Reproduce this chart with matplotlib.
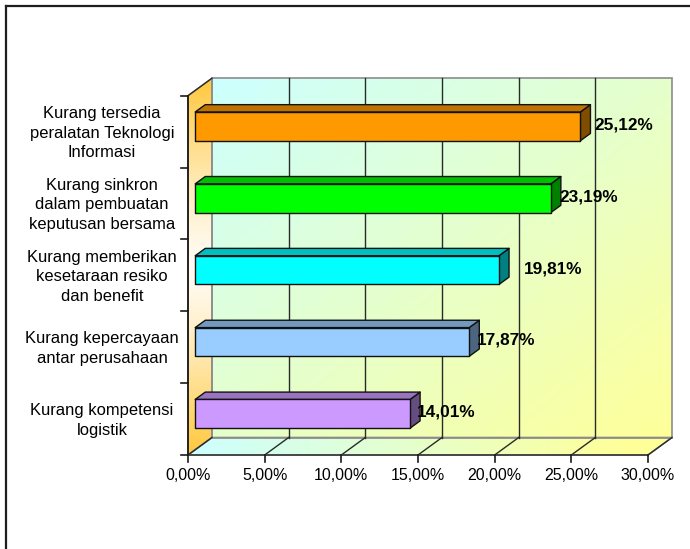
import numpy as np
import matplotlib
matplotlib.use("Agg")
import matplotlib.pyplot as plt
from matplotlib.patches import Polygon
from matplotlib.transforms import IdentityTransform
from matplotlib.lines import Line2D

plt.rcParams['font.family'] = ['Liberation Sans', 'DejaVu Sans']

# ---- data -------------------------------------------------------------
categories = [
    "Kurang tersedia\nperalatan Teknologi\nInformasi",
    "Kurang sinkron\ndalam pembuatan\nkeputusan bersama",
    "Kurang memberikan\nkesetaraan resiko\ndan benefit",
    "Kurang kepercayaan\nantar perusahaan",
    "Kurang kompetensi\nlogistik",
]
values = [25.12, 23.19, 19.81, 17.87, 14.01]
value_labels = ["25,12%", "23,19%", "19,81%", "17,87%", "14,01%"]
x_ticks = [0, 5, 10, 15, 20, 25, 30]
x_tick_labels = ["0,00%", "5,00%", "10,00%", "15,00%", "20,00%", "25,00%", "30,00%"]

# ---- styling ----------------------------------------------------------
front_colors = ["#FF9900", "#00FF00", "#00FFFF", "#99CCFF", "#CC99FF"]
label_pad_px = [4, -1, 15, -2, -3]

W, H = 690, 549
fig = plt.figure(figsize=(W / 100, H / 100), dpi=100)
fig.patch.set_facecolor("white")

# front plane of the 3-D box, in pixels
X0, X1 = 188, 648
YB, YT = H - 455, H - 95.7
ax = fig.add_axes([X0 / W, YB / H, (X1 - X0) / W, (YT - YB) / H])
ax.set_xlim(0, 30)
ax.set_ylim(0, len(categories))
ax.set_autoscale_on(False)
ax.set_axis_off()

DEPTH = np.array([24.0, 17.5])   # pixel offset from front plane to back wall
ID = IdentityTransform()


def P(x, y, d=0.0):
    """Data point (x, y) pushed back by depth fraction d, in display pixels."""
    return ax.transData.transform((x, y)) + d * DEPTH


def poly(points, **kw):
    p = Polygon(np.array(points), closed=True, transform=ID, clip_on=False, **kw)
    ax.add_artist(p)
    return p


def gradient(points, color_fn, zorder):
    pts = np.array(points)
    xmin, ymin = pts.min(axis=0)
    xmax, ymax = pts.max(axis=0)
    nx, ny = 200, 200
    u, v = np.meshgrid(np.linspace(0, 1, nx), np.linspace(0, 1, ny))
    img = color_fn(u, v)  # v = 0 at bottom
    clip = poly(points, facecolor="none", edgecolor="none", zorder=zorder)
    im = ax.imshow(img, extent=(xmin, xmax, ymin, ymax), transform=ID,
                   origin="lower", aspect="auto", interpolation="bilinear",
                   zorder=zorder)
    im.set_clip_box(fig.bbox)
    im.set_clip_path(clip)
    return im


def lerp(c1, c2, t):
    c1 = np.array(c1) / 255.0
    c2 = np.array(c2) / 255.0
    t = np.clip(t, 0, 1)[..., None]
    return c1 + (c2 - c1) * t


CYAN = (204, 255, 255)
YELLOW = (255, 255, 153)
GOLD = (255, 200, 60)
PALE = (255, 252, 245)

n = len(categories)

# back wall
back = [P(0, 0, 1), P(30, 0, 1), P(30, n, 1), P(0, n, 1)]
gradient(back, lambda u, v: lerp(CYAN, YELLOW, (u + (1 - v)) / 2), 1)
poly(back, facecolor="none", edgecolor="#8c8c8c", lw=1.2, zorder=3)

# left wall
left = [P(0, 0, 0), P(0, 0, 1), P(0, n, 1), P(0, n, 0)]


def left_fn(u, v):
    t = np.abs(v - 0.5) * 2
    return lerp(PALE, GOLD, t ** 1.3)


gradient(left, left_fn, 1)
poly(left, facecolor="none", edgecolor="#8c8c8c", lw=1.0, zorder=3)

# floor
floor = [P(0, 0, 0), P(30, 0, 0), P(30, 0, 1), P(0, 0, 1)]
gradient(floor, lambda u, v: lerp(CYAN, YELLOW, u * 1.1), 1)
poly(floor, facecolor="none", edgecolor="#8c8c8c", lw=1.2, zorder=3)

# grid lines on back wall and floor
for xv in x_ticks[1:-1]:
    a, b = P(xv, 0, 1), P(xv, n, 1)
    ax.add_artist(Line2D([a[0], b[0]], [a[1], b[1]], color="#2a2a2a", lw=1.0,
                         transform=ID, zorder=4, clip_on=False))
for xv in x_ticks[1:]:
    a, b = P(xv, 0, 0), P(xv, 0, 1)
    ax.add_artist(Line2D([a[0], b[0]], [a[1], b[1]], color="#2a2a2a", lw=1.0,
                         transform=ID, zorder=4, clip_on=False))

# edges of the left wall
for (p0, p1) in [(P(0, n, 0), P(0, n, 1)), (P(0, 0, 0), P(0, 0, 1))]:
    ax.add_artist(Line2D([p0[0], p1[0]], [p0[1], p1[1]], color="#2a2a2a", lw=1.0,
                         transform=ID, zorder=4, clip_on=False))

# axis lines and ticks
a, b = P(0, 0, 0), P(0, n, 0)
ax.add_artist(Line2D([a[0], b[0]], [a[1], b[1]], color="#1a1a1a", lw=1.3,
                     transform=ID, zorder=5, clip_on=False))
a, b = P(0, 0, 0), P(30, 0, 0)
ax.add_artist(Line2D([a[0], b[0]], [a[1], b[1]], color="#3a3a3a", lw=1.2,
                     transform=ID, zorder=5, clip_on=False))
for k in range(n + 1):
    a = P(0, k, 0)
    ax.add_artist(Line2D([a[0] - 7, a[0]], [a[1], a[1]], color="#1a1a1a", lw=1.2,
                         transform=ID, zorder=5, clip_on=False))
for xv, lab in zip(x_ticks, x_tick_labels):
    a = P(xv, 0, 0)
    ax.add_artist(Line2D([a[0], a[0]], [a[1] - 7, a[1]], color="#1a1a1a", lw=1.2,
                         transform=ID, zorder=5, clip_on=False))
    ax.text(a[0], a[1] - 20, lab, transform=ID, ha="center", va="center",
            fontsize=11.5, color="black")

# bars
D0, D1 = 0.30, 0.72
BAR_H = 0.40
for i, (val, col) in enumerate(zip(values, front_colors)):
    yc = n - 0.5 - i
    yb, yt = yc - BAR_H / 2, yc + BAR_H / 2
    rgb = np.array(matplotlib.colors.to_rgb(col))
    top_c = rgb * 0.75
    side_c = rgb * 0.5
    ekw = dict(edgecolor="#111111", lw=1.0, joinstyle="round", zorder=6)
    poly([P(val, yb, D0), P(val, yb, D1), P(val, yt, D1), P(val, yt, D0)],
         facecolor=side_c, **ekw)
    poly([P(0, yt, D0), P(val, yt, D0), P(val, yt, D1), P(0, yt, D1)],
         facecolor=top_c, **ekw)
    poly([P(0, yb, D0), P(val, yb, D0), P(val, yt, D0), P(0, yt, D0)],
         facecolor=rgb, **ekw)

    # value label
    end = P(val, yc, D1)
    mid = P(val, yc, D0)
    ax.text(end[0] + label_pad_px[i], mid[1] + 1.5, value_labels[i], transform=ID,
            ha="left", va="center", fontsize=12.4, fontweight="bold", color="black",
            zorder=7)

    # category label
    c = P(0, yc, 0)
    ax.text(102, c[1] - 1.5, categories[i], transform=ID, ha="center", va="center",
            multialignment="center", fontsize=11.9, linespacing=1.4, color="black")

# outer frame (top and left edges)
fig.add_artist(Line2D([5.5, W], [H - 6, H - 6], color="#1e1e1e", lw=1.6,
                      transform=ID))
fig.add_artist(Line2D([5.5, 5.5], [0, H - 6], color="#1e1e1e", lw=1.6,
                      transform=ID))

fig.savefig("out.png", dpi=100, facecolor="white")
